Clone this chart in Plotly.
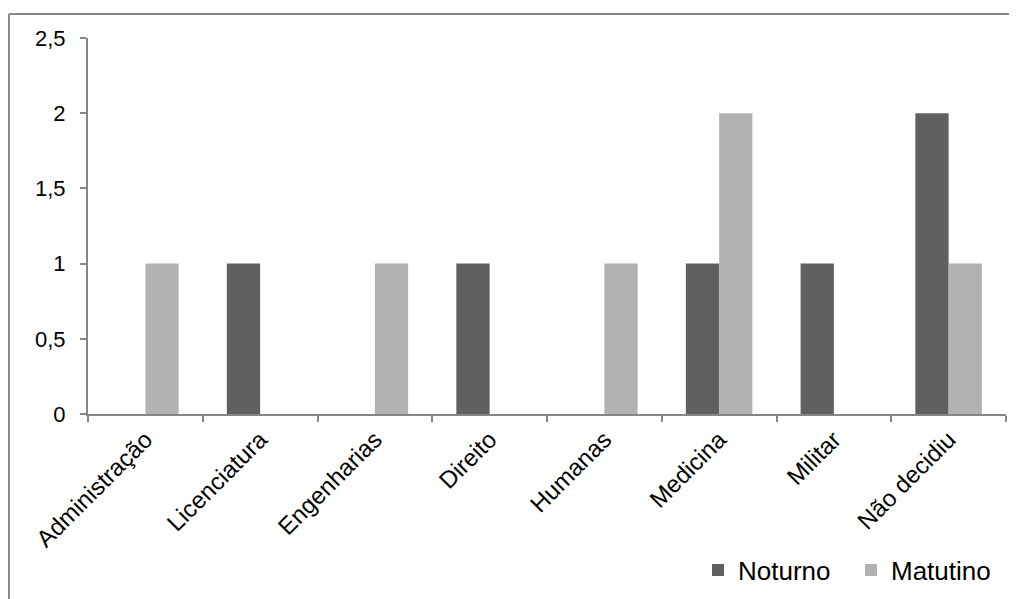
import plotly.graph_objects as go

categories = ["Administração", "Licenciatura", "Engenharias", "Direito", "Humanas",
              "Medicina", "Militar", "Não decidiu"]
noturno = [0, 1, 0, 1, 0, 1, 1, 2]
matutino = [1, 0, 1, 0, 1, 2, 0, 1]
y_ticks = [0, 0.5, 1, 1.5, 2, 2.5]
y_labels = ["0", "0,5", "1", "1,5", "2", "2,5"]

OFF = 8  # page body margin
W, H = 1017 - OFF, 599 - OFF
L, T = 88 - OFF, 38 - OFF
R = W - (1006 - OFF)
B = H - (414 - OFF)
pw, ph = W - L - R, H - T - B

font = "Liberation Sans, Arial, sans-serif"

fig = go.Figure()
fig.add_trace(go.Bar(name="Noturno", x=categories, y=noturno, legend="legend",
                     marker=dict(color="#606060", line=dict(width=0))))
fig.add_trace(go.Bar(name="Matutino", x=categories, y=matutino, legend="legend2",
                     marker=dict(color="#b2b2b2", line=dict(width=0))))

def px_x(x):
    return (x - OFF - L) / pw

def px_y(y):
    return 1 - (y - OFF - T) / ph

bx = px_x(9)
by = px_y(14)
line = dict(color="#888888", width=2)
fig.add_shape(type="line", xref="paper", yref="paper", x0=bx, x1=bx, y0=-1, y1=by, line=line)
fig.add_shape(type="line", xref="paper", yref="paper", x0=bx, x1=1.2, y0=by, y1=by, line=line)

leg_common = dict(orientation="h", xanchor="left", yanchor="middle",
                  font=dict(size=26), itemwidth=30, bgcolor="rgba(0,0,0,0)")

fig.update_layout(
    width=W, height=H,
    margin=dict(l=L, r=R, t=T, b=B, autoexpand=False),
    paper_bgcolor="white", plot_bgcolor="white",
    barmode="group", bargap=0.42, bargroupgap=0,
    font=dict(family=font, size=22, color="#000000"),
    showlegend=True,
    legend=dict(x=px_x(698), y=px_y(570), **leg_common),
    legend2=dict(x=px_x(851), y=px_y(570), **leg_common),
)
fig.update_xaxes(showline=True, linecolor="#868686", linewidth=2,
                 ticks="outside", tickson="boundaries", ticklen=6, tickcolor="#868686",
                 tickwidth=2, tickangle=-45, showgrid=False, zeroline=False,
                 tickfont=dict(size=24))
fig.update_yaxes(range=[0, 2.5], tickvals=y_ticks, ticktext=y_labels,
                 showline=True, linecolor="#868686", linewidth=2,
                 ticks="outside", ticklen=6, tickcolor="#868686", tickwidth=2,
                 showgrid=False, zeroline=False, ticklabelstandoff=10,
                 tickfont=dict(size=22))

fig.write_html("out.html")
